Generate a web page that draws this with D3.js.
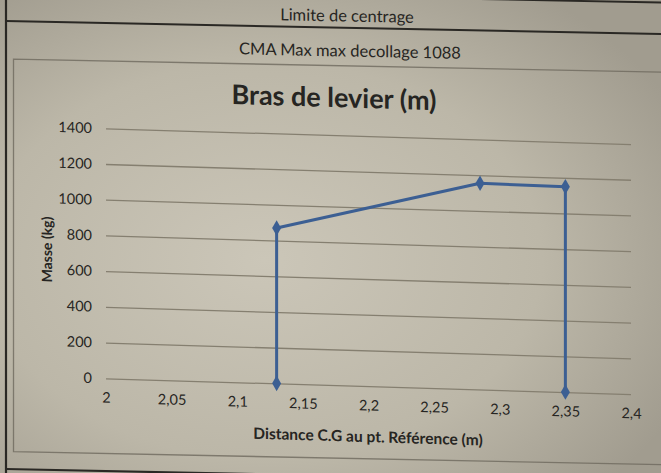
<!DOCTYPE html>
<html>
<head>
<meta charset="utf-8">
<script src="https://cdn.jsdelivr.net/npm/d3@7"></script>
<style>
  body { margin: 0; background: #b9b4a6; }
  svg { display: block; }
  text { font-family: Lato, "Open Sans", sans-serif; fill: #262522; }
  .tick text { font-size: 14.5px; }
  .axis-title { font-weight: bold; font-size: 15.5px; }
</style>
</head>
<body>
<div id="chart"></div>
<script>
const distances = [2.13, 2.13, 2.285, 2.35, 2.35];
const masses = [0, 870, 1155, 1150, 0];
const xTicks = [2, 2.05, 2.1, 2.15, 2.2, 2.25, 2.3, 2.35, 2.4];
const yTicks = [0, 200, 400, 600, 800, 1000, 1200, 1400];

const W = 661, H = 473;
const fr = d3.formatLocale({ decimal: ",", thousands: " ", grouping: [3], currency: ["", " €"] });

const svg = d3.select("#chart").append("svg")
    .attr("width", W)
    .attr("height", H);

// papier photographié
const grad = svg.append("defs").append("radialGradient")
    .attr("id", "paper")
    .attr("cx", "40%").attr("cy", "55%").attr("r", "70%");
grad.append("stop").attr("offset", "0%").attr("stop-color", "#cbc6b8");
grad.append("stop").attr("offset", "60%").attr("stop-color", "#bcb7a8");
grad.append("stop").attr("offset", "100%").attr("stop-color", "#a19c8f");

svg.append("rect")
    .attr("width", W)
    .attr("height", H)
    .attr("fill", "url(#paper)");

// la feuille est un peu de travers sur la photo
const skew = (k) => `translate(0,${-k * 330}) skewY(${Math.atan(k) * 180 / Math.PI})`;

// cadre du tableau
const frame = svg.append("g").attr("transform", skew(0.02));

frame.append("line")
    .attr("x1", 6).attr("x2", 6).attr("y1", -20).attr("y2", H + 20)
    .attr("stroke", "#2a2824").attr("stroke-width", 2.2);

[[-4, 2], [27.5, 2], [475.5, 2.2]].forEach(([yy, w]) => {
    frame.append("line")
        .attr("x1", 6).attr("x2", W + 20).attr("y1", yy).attr("y2", yy)
        .attr("stroke", "#2a2824").attr("stroke-width", w);
});

// bordure de la zone graphique
frame.append("path")
    .attr("d", `M${W + 20},65.5 H13.5 V458 H${W + 20}`)
    .attr("fill", "none")
    .attr("stroke", "#6e695e")
    .attr("stroke-width", 1.3)
    .attr("opacity", 0.8);

frame.append("text")
    .attr("x", 347).attr("y", 17)
    .attr("text-anchor", "middle")
    .attr("dominant-baseline", "middle")
    .style("font-size", "16.5px")
    .text("Limite de centrage");

frame.append("text")
    .attr("x", 350).attr("y", 52)
    .attr("text-anchor", "middle")
    .attr("dominant-baseline", "middle")
    .style("font-size", "16.5px")
    .text("CMA Max max decollage 1088");

// graphique
const g = svg.append("g").attr("transform", skew(0.03));

const x = d3.scaleLinear().domain([2, 2.4]).range([106, 631]);
const y = d3.scaleLinear().domain([0, 1400]).range([385, 135]);

g.append("text")
    .attr("x", 334).attr("y", 100)
    .attr("text-anchor", "middle")
    .attr("dominant-baseline", "middle")
    .style("font-size", "27px")
    .style("font-weight", "bold")
    .text("Bras de levier (m)");

const yAxis = g.append("g")
    .attr("transform", `translate(${x(2)},0)`)
    .call(d3.axisLeft(y)
        .tickValues(yTicks)
        .tickFormat(d3.format("d"))
        .tickSizeInner(-(x(2.4) - x(2)))
        .tickSizeOuter(0)
        .tickPadding(14));
yAxis.select(".domain").remove();
yAxis.selectAll(".tick line")
    .attr("stroke", "#857f70")
    .attr("stroke-width", 1.3);

const xAxis = g.append("g")
    .attr("transform", `translate(0,${y(0)})`)
    .call(d3.axisBottom(x)
        .tickValues(xTicks)
        .tickFormat(fr.format(".3~r"))
        .tickSize(0)
        .tickPadding(14));
xAxis.select(".domain").remove();

g.append("text")
    .attr("class", "axis-title")
    .attr("x", 368).attr("y", 437)
    .attr("text-anchor", "middle")
    .attr("dominant-baseline", "middle")
    .text("Distance C.G au pt. Référence (m)");

g.append("text")
    .attr("class", "axis-title")
    .attr("transform", `translate(48,258) rotate(-90)`)
    .attr("text-anchor", "middle")
    .attr("dominant-baseline", "middle")
    .style("font-size", "14px")
    .text("Masse (kg)");

const pts = distances.map((d, i) => [d, masses[i]]);

g.append("path")
    .datum(pts)
    .attr("fill", "none")
    .attr("stroke", "#3c5f93")
    .attr("stroke-width", 3)
    .attr("stroke-linejoin", "round")
    .attr("d", d3.line().x(d => x(d[0])).y(d => y(d[1])));

g.selectAll(".marker")
    .data(pts)
    .join("path")
    .attr("class", "marker")
    .attr("transform", d => `translate(${x(d[0])},${y(d[1])})`)
    .attr("d", d3.symbol(d3.symbolDiamond, 70))
    .attr("fill", "#3c5f93");
</script>
</body>
</html>
